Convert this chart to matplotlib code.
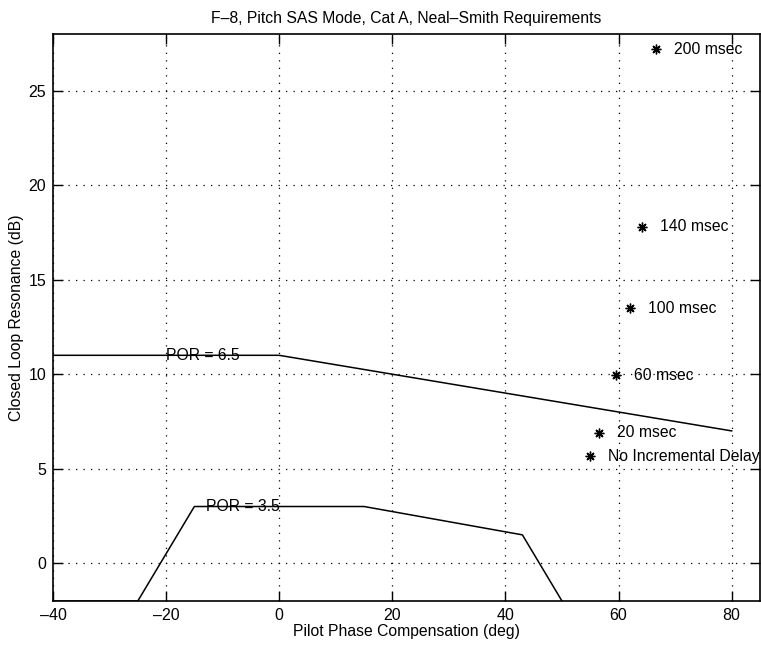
import matplotlib
matplotlib.use("Agg")
import matplotlib.pyplot as plt

plt.rcParams['font.family'] = ['Liberation Sans', 'DejaVu Sans']

# Boundary lines
upper_x = [-40, 0, 80]
upper_y = [11, 11, 7]
lower_x = [-40, -25, -15, 15, 43, 50]
lower_y = [-2, -2, 3, 3, 1.5, -2]

# Data points
pt_x = [54.9, 56.5, 59.6, 62.1, 64.1, 66.7]
pt_y = [5.65, 6.9, 9.95, 13.5, 17.8, 27.2]
pt_labels = ['No Incremental Delay', '20 msec', '60 msec', '100 msec', '140 msec', '200 msec']

xticks = [-40, -20, 0, 20, 40, 60, 80]
yticks = [0, 5, 10, 15, 20, 25]

FS = 11.3

fig = plt.figure(figsize=(7.61, 6.45), dpi=100)
ax = fig.add_axes([0.0696, 0.0682, 0.9290, 0.8791])

ax.plot(upper_x, upper_y, color='black', linewidth=1.1)
ax.plot(lower_x, lower_y, color='black', linewidth=1.1)
ax.plot(pt_x, pt_y, linestyle='none', marker=(8, 2, 0), markersize=7,
        markeredgecolor='black', markeredgewidth=1.0, color='black')
for x, y, lab in zip(pt_x, pt_y, pt_labels):
    ax.annotate(lab, (x, y), xytext=(13, 0), textcoords='offset points',
                va='center', ha='left', fontsize=FS)

ax.text(-20, 11, 'POR = 6.5', va='center', ha='left', fontsize=FS)
ax.text(-13, 3, 'POR = 3.5', va='center', ha='left', fontsize=FS)

ax.set_xlim(-40, 85)
ax.set_ylim(-2, 28)
ax.set_xticks(xticks)
ax.set_yticks(yticks)
ax.set_xticklabels(['\u201340', '\u201320', '0', '20', '40', '60', '80'])
ax.set_yticklabels([str(v) for v in yticks])
ax.tick_params(direction='in', length=7, width=1.0, top=True, right=True,
               labelsize=11.5, pad=5)
ax.grid(True, color='black', linestyle=(0, (1, 5)), linewidth=0.9)
for s in ax.spines.values():
    s.set_linewidth(1.2)

ax.set_title('F\u20138, Pitch SAS Mode, Cat A, Neal\u2013Smith Requirements',
             fontsize=FS, pad=8)
ax.set_xlabel('Pilot Phase Compensation (deg)', fontsize=FS, labelpad=1)
ax.set_ylabel('Closed Loop Resonance (dB)', fontsize=FS, labelpad=3)

fig.savefig('out.png', dpi=100)
